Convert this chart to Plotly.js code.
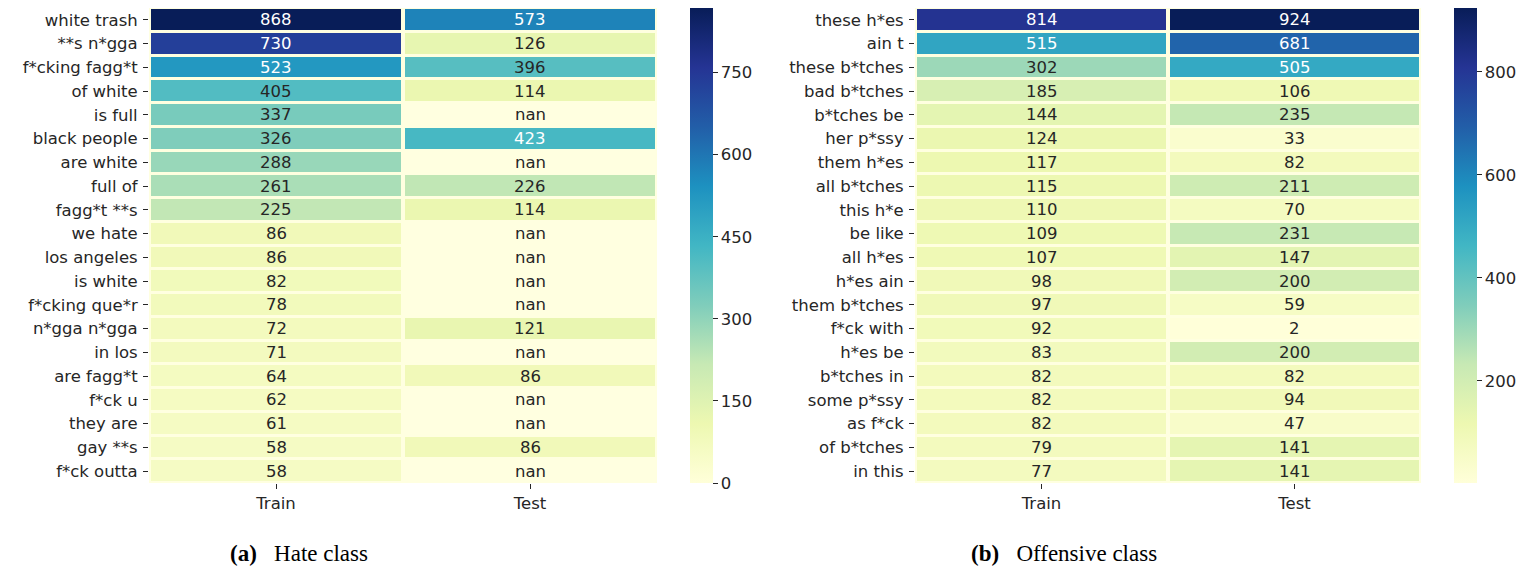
<!DOCTYPE html>
<html>
<head>
<meta charset="utf-8">
<script src="https://cdn.plot.ly/plotly-3.0.1.min.js"></script>
<style>html,body{margin:0;padding:0;background:#fff;}#chart{width:1528px;height:567px;}</style>
</head>
<body>
<div id="chart"></div>
<script>
const columns = ["Train", "Test"];

const hateTerms = ["white trash", "**s n*gga", "f*cking fagg*t", "of white", "is full", "black people",
  "are white", "full of", "fagg*t **s", "we hate", "los angeles", "is white", "f*cking que*r",
  "n*gga n*gga", "in los", "are fagg*t", "f*ck u", "they are", "gay **s", "f*ck outta"];
const hateTrain = [868, 730, 523, 405, 337, 326, 288, 261, 225, 86, 86, 82, 78, 72, 71, 64, 62, 61, 58, 58];
const hateTest = [573, 126, 396, 114, null, 423, null, 226, 114, null, null, null, null, 121, null, 86, null, null, 86, null];

const offTerms = ["these h*es", "ain t", "these b*tches", "bad b*tches", "b*tches be", "her p*ssy",
  "them h*es", "all b*tches", "this h*e", "be like", "all h*es", "h*es ain", "them b*tches",
  "f*ck with", "h*es be", "b*tches in", "some p*ssy", "as f*ck", "of b*tches", "in this"];
const offTrain = [814, 515, 302, 185, 144, 124, 117, 115, 110, 109, 107, 98, 97, 92, 83, 82, 82, 82, 79, 77];
const offTest = [924, 681, 505, 106, 235, 33, 82, 211, 70, 231, 147, 200, 59, 2, 200, 82, 94, 47, 141, 141];

const hateTicks = [0, 150, 300, 450, 600, 750];
const offTicks = [200, 400, 600, 800];

const captions = ["<b>(a)</b>\u00a0\u00a0 Hate class", "<b>(b)</b>\u00a0\u00a0 Offensive class"];

const ylgnbuHex = ["#ffffd9", "#edf8b1", "#c7e9b4", "#7fcdbb", "#41b6c4", "#1d91c0", "#225ea8", "#253494", "#081d58"];
const colorscale = ylgnbuHex.map((c, i) => [i / (ylgnbuHex.length - 1), c]);

function hexToRgb(h) { return [parseInt(h.slice(1,3),16), parseInt(h.slice(3,5),16), parseInt(h.slice(5,7),16)]; }
function colorAt(t) {
  t = Math.max(0, Math.min(1, t));
  const n = ylgnbuHex.length - 1;
  const i = Math.min(Math.floor(t * n), n - 1);
  const f = t * n - i;
  const a = hexToRgb(ylgnbuHex[i]), b = hexToRgb(ylgnbuHex[i + 1]);
  return a.map((v, k) => v + (b[k] - v) * f);
}
function lum(rgb) {
  const c = rgb.map(v => { v /= 255; return v <= 0.03928 ? v / 12.92 : Math.pow((v + 0.055) / 1.055, 2.4); });
  return 0.2126 * c[0] + 0.7152 * c[1] + 0.0722 * c[2];
}

function buildZ(train, test) { return train.map((v, i) => [v, test[i]]); }

function minMax(arrs) {
  const all = arrs.flat().filter(v => v !== null);
  return [Math.min(...all), Math.max(...all)];
}

const hateRange = [0, Math.max(...hateTrain)];
const offRange = minMax([offTrain, offTest]);

const font = "DejaVu Sans, sans-serif";
const fs = 16.5;
const dark = "#262626";

const traces = [
  {
    type: "heatmap", x: columns, y: hateTerms, z: buildZ(hateTrain, hateTest),
    xaxis: "x", yaxis: "y", colorscale: colorscale, zmin: hateRange[0], zmax: hateRange[1],
    xgap: 4, ygap: 3, hoverongaps: false,
    colorbar: {
      x: 690 / 1528, xanchor: "left", xpad: 0, y: 1 - 8 / 567, yanchor: "top", ypad: 0,
      len: 475, lenmode: "pixels", thickness: 23, outlinewidth: 0,
      tickvals: hateTicks, ticks: "outside", ticklen: 5, tickcolor: dark,
      tickfont: { family: font, size: fs, color: dark }
    }
  },
  {
    type: "heatmap", x: columns, y: offTerms, z: buildZ(offTrain, offTest),
    xaxis: "x2", yaxis: "y2", colorscale: colorscale, zmin: offRange[0], zmax: offRange[1],
    xgap: 4, ygap: 3, hoverongaps: false,
    colorbar: {
      x: 1454 / 1528, xanchor: "left", xpad: 0, y: 1 - 8 / 567, yanchor: "top", ypad: 0,
      len: 475, lenmode: "pixels", thickness: 23, outlinewidth: 0,
      tickvals: offTicks, ticks: "outside", ticklen: 5, tickcolor: dark,
      tickfont: { family: font, size: fs, color: dark }
    }
  }
];

const annotations = [];
function addCellText(terms, train, test, range, xref, yref) {
  terms.forEach((t, i) => {
    [train[i], test[i]].forEach((v, j) => {
      let color = dark;
      if (v !== null) {
        const rgb = colorAt((v - range[0]) / (range[1] - range[0]));
        color = lum(rgb) > 0.408 ? dark : "#ffffff";
      }
      annotations.push({
        x: columns[j], y: t, xref: xref, yref: yref, showarrow: false,
        xanchor: "center", yanchor: "middle",
        text: v === null ? "nan" : String(v),
        font: { family: font, size: fs, color: color }
      });
    });
  });
}
addCellText(hateTerms, hateTrain, hateTest, hateRange, "x", "y");
addCellText(offTerms, offTrain, offTest, offRange, "x2", "y2");

annotations.push({ x: 299 / 1528, y: 1 - 553 / 567, xref: "paper", yref: "paper", showarrow: false,
  xanchor: "center", yanchor: "middle",
  text: captions[0], font: { family: "Liberation Serif, serif", size: 23, color: "#000" } });
annotations.push({ x: 1064 / 1528, y: 1 - 553 / 567, xref: "paper", yref: "paper", showarrow: false,
  xanchor: "center", yanchor: "middle",
  text: captions[1], font: { family: "Liberation Serif, serif", size: 23, color: "#000" } });

const axX = {
  showgrid: false, zeroline: false, showline: false, ticks: "outside", ticklen: 5, tickcolor: dark,
  tickfont: { family: font, size: fs, color: dark }, fixedrange: true
};
const axY = {
  showgrid: false, zeroline: false, showline: false, ticks: "outside", ticklen: 5, tickcolor: dark,
  tickfont: { family: font, size: fs, color: dark }, autorange: "reversed", fixedrange: true, ticklabelstandoff: 2
};

const yDom = [1 - 483 / 567, 1 - 8 / 567];
const layout = {
  width: 1528, height: 567,
  margin: { l: 0, r: 0, t: 0, b: 0 },
  paper_bgcolor: "#ffffff", plot_bgcolor: "#ffffe0",
  showlegend: false,
  xaxis: Object.assign({}, axX, { domain: [149 / 1528, 657 / 1528], anchor: "y" }),
  yaxis: Object.assign({}, axY, { domain: yDom, anchor: "x" }),
  xaxis2: Object.assign({}, axX, { domain: [915 / 1528, 1421 / 1528], anchor: "y2" }),
  yaxis2: Object.assign({}, axY, { domain: yDom, anchor: "x2" }),
  annotations: annotations
};

Plotly.newPlot("chart", traces, layout, { displayModeBar: false, staticPlot: true });
</script>
</body>
</html>
